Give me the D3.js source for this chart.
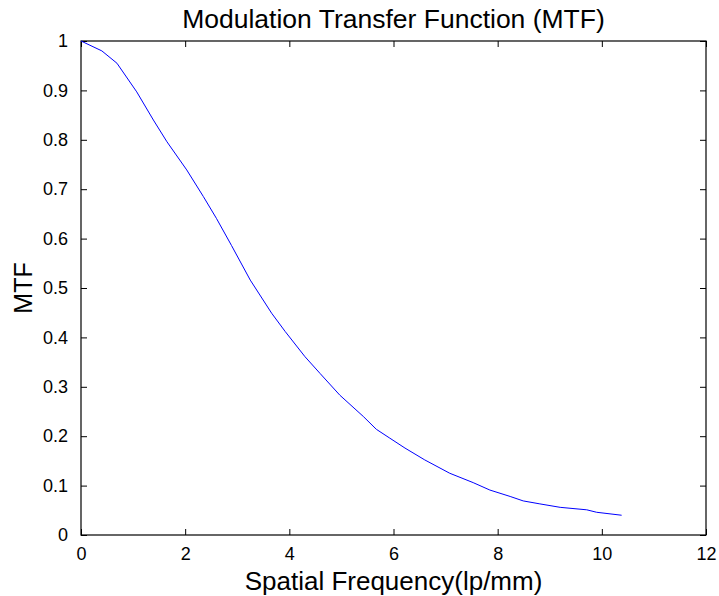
<!DOCTYPE html>
<html>
<head>
<meta charset="utf-8">
<script src="https://cdn.jsdelivr.net/npm/d3@7"></script>
<style>
  html, body { margin: 0; padding: 0; background: #fff; }
  svg { display: block; }
  text { font-family: "Liberation Sans", Arial, Helvetica, sans-serif; fill: #000; }
</style>
</head>
<body>
<svg id="chart" width="719" height="596"></svg>
<script>
// Data
const freq = [0, 0.4, 0.69, 1.07, 1.39, 1.65, 2.03, 2.35, 2.6, 2.89, 3.25, 3.66, 3.92, 4.3, 4.59, 4.97, 5.42, 5.67, 5.93, 6.22, 6.6, 7.08, 7.53, 7.85, 8.24, 8.49, 8.81, 9.2, 9.71, 9.9, 10.38];
const mtf  = [1.0, 0.98, 0.955, 0.897, 0.84, 0.796, 0.739, 0.685, 0.641, 0.586, 0.516, 0.449, 0.412, 0.361, 0.327, 0.283, 0.24, 0.214, 0.196, 0.176, 0.152, 0.125, 0.106, 0.091, 0.078, 0.069, 0.063, 0.056, 0.051, 0.046, 0.040];
const xTicks = [0, 2, 4, 6, 8, 10, 12];
const yTicks = [0, 0.1, 0.2, 0.3, 0.4, 0.5, 0.6, 0.7, 0.8, 0.9, 1];
const titleText = "Modulation Transfer Function (MTF)";
const xLabelText = "Spatial Frequency(lp/mm)";
const yLabelText = "MTF";

const svg = d3.select("#chart");
const L = 81, R = 706, T = 41, B = 535;
const x = d3.scaleLinear().domain([0, 12]).range([L, R]);
const y = d3.scaleLinear().domain([0, 1]).range([B, T]);
const tickLen = 6;

// Axes (MATLAB-style: ticks inside, mirrored on all sides)
const fmt = d => d3.format("~g")(d);
const gB = svg.append("g").attr("transform", `translate(0,${B})`)
  .call(d3.axisBottom(x).tickValues(xTicks).tickSize(-tickLen).tickPadding(tickLen + 6).tickFormat(fmt));
const gT = svg.append("g").attr("transform", `translate(0,${T})`)
  .call(d3.axisTop(x).tickValues(xTicks).tickSize(-tickLen).tickFormat(""));
const gL = svg.append("g").attr("transform", `translate(${L},0)`)
  .call(d3.axisLeft(y).tickValues(yTicks).tickSize(-tickLen).tickPadding(tickLen + 7).tickFormat(fmt));
const gR = svg.append("g").attr("transform", `translate(${R},0)`)
  .call(d3.axisRight(y).tickValues(yTicks).tickSize(-tickLen).tickFormat(""));

[gB, gT, gL, gR].forEach(g => {
  g.select(".domain").remove();
  g.selectAll(".tick line").attr("stroke", "#000").attr("stroke-width", 1);
  g.selectAll(".tick text").attr("font-size", 18).attr("fill", "#000")
    .attr("font-family", '"Liberation Sans", Arial, Helvetica, sans-serif');
});
svg.append("rect").attr("x", L).attr("y", T).attr("width", R - L).attr("height", B - T)
  .attr("fill", "none").attr("stroke", "#000").attr("stroke-width", 1.2);

// Curve
const line = d3.line().x((d, i) => x(freq[i])).y(d => y(d));
svg.append("path").datum(mtf).attr("d", line)
  .attr("fill", "none").attr("stroke", "#0000ff").attr("stroke-width", 1);

// Title and labels
svg.append("text").attr("x", (L + R) / 2).attr("y", 28).attr("text-anchor", "middle")
  .attr("font-size", 26.5).text(titleText);
svg.append("text").attr("x", (L + R) / 2).attr("y", 590).attr("text-anchor", "middle")
  .attr("font-size", 26).text(xLabelText);
svg.append("text").attr("transform", `translate(32,${(T + B) / 2}) rotate(-90)`)
  .attr("text-anchor", "middle").attr("font-size", 25).text(yLabelText);
</script>
</body>
</html>
